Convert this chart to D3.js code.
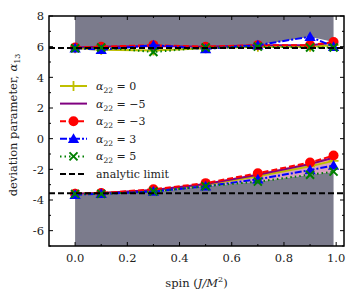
<!DOCTYPE html>
<html>
<head>
<meta charset="utf-8">
<script src="https://cdn.jsdelivr.net/npm/d3@7"></script>
<style>
  body { margin: 0; background: #fff; }
  text { font-family: "DejaVu Serif", "Liberation Serif", serif; fill: #222; }
</style>
</head>
<body>
<div id="chart"></div>
<script>
// spin values and the deviation parameter for each alpha_22
const spin = [0, 0.1, 0.3, 0.5, 0.7, 0.9, 0.99];
const alphaLabels = ["0", "\u22125", "\u22123", "3", "5"];
const upperValues = [
    [5.9, 5.8, 5.75, 5.9, 6.0, 6.0, 6.1],
    [5.95, 6.0, 6.05, 6.0, 6.1, 6.1, 6.25],
    [5.95, 6.0, 6.1, 6.0, 6.1, 6.1, 6.3],
    [5.9, 5.8, 6.1, 5.85, 6.1, 6.65, 6.0],
    [5.9, 5.95, 5.65, 5.95, 6.0, 5.95, 5.95]
];
const lowerValues = [
    [-3.6, -3.55, -3.4, -3.0, -2.45, -1.8, -1.45],
    [-3.6, -3.55, -3.35, -2.95, -2.35, -1.65, -1.25],
    [-3.6, -3.55, -3.3, -2.9, -2.25, -1.55, -1.1],
    [-3.65, -3.6, -3.45, -3.1, -2.65, -2.05, -1.75],
    [-3.6, -3.6, -3.45, -3.1, -2.8, -2.35, -2.15]
];
const analyticLimit = [5.92, -3.56];
const xTicks = [0, 0.2, 0.4, 0.6, 0.8, 1.0];
const yTicks = [-6, -4, -2, 0, 2, 4, 6, 8];

const width = 357, height = 299;
const margin = { left: 49, right: 13, top: 16, bottom: 53 };

const svg = d3.select("#chart").append("svg")
    .attr("width", width).attr("height", height);

const x = d3.scaleLinear().domain([-0.1, 1.03]).range([margin.left, width - margin.right]);
const y = d3.scaleLinear().domain([-7, 8]).range([height - margin.bottom, margin.top]);

const series = [
    { color: "#bfbf00", dash: null, marker: "plus" },
    { color: "#800080", dash: null, marker: null },
    { color: "#ff0000", dash: "6,3", marker: "circle" },
    { color: "#0000ff", dash: "7,2,2,2", marker: "triangle" },
    { color: "#008000", dash: "1.5,3", marker: "cross" }
];

svg.append("defs").append("clipPath").attr("id", "clip")
    .append("rect")
    .attr("x", x(-0.1)).attr("y", y(8))
    .attr("width", x(1.03) - x(-0.1)).attr("height", y(-7) - y(8));

const plot = svg.append("g").attr("clip-path", "url(#clip)");

// excluded regions
const upperMax = spin.map((s, i) => d3.max(upperValues, (v) => v[i]));
const lowerMin = spin.map((s, i) => d3.min(lowerValues, (v) => v[i]));
const lowerMax = spin.map((s, i) => d3.max(lowerValues, (v) => v[i]));
const lowerMid = spin.map((s, i) => lowerValues[0][i]);

const area = d3.area().x((d) => x(d[0]));
plot.append("path")
    .attr("d", area.y0(y(8)).y1((d) => y(d[1]))(spin.map((s, i) => [s, upperMax[i]])))
    .attr("fill", "#7b7b8c");
plot.append("path")
    .attr("d", area.y0(y(-7)).y1((d) => y(d[1]))(spin.map((s, i) => [s, lowerMin[i]])))
    .attr("fill", "#7b7b8c");
plot.append("path")
    .attr("d", d3.area().x((d) => x(d[0])).y0((d) => y(d[1])).y1((d) => y(d[2]))
        (spin.map((s, i) => [s, lowerMin[i], lowerMid[i]])))
    .attr("fill", "#d9a0c0");
plot.append("path")
    .attr("d", d3.area().x((d) => x(d[0])).y0((d) => y(d[1])).y1((d) => y(d[2]))
        (spin.map((s, i) => [s, lowerMid[i], lowerMax[i]])))
    .attr("fill", "#f6b0a0");

function drawMarker(g, type, color, cx, cy) {
    if (type === "circle") {
        g.append("circle").attr("cx", cx).attr("cy", cy).attr("r", 5).attr("fill", color);
    } else if (type === "triangle") {
        g.append("path").attr("d", d3.symbol(d3.symbolTriangle, 55)())
            .attr("transform", `translate(${cx},${cy + 1})`).attr("fill", color);
    } else if (type === "plus") {
        g.append("path").attr("d", `M${cx - 5},${cy}H${cx + 5}M${cx},${cy - 5}V${cy + 5}`)
            .attr("stroke", color).attr("stroke-width", 1.8);
    } else if (type === "cross") {
        g.append("path").attr("d", `M${cx - 4},${cy - 4}L${cx + 4},${cy + 4}M${cx - 4},${cy + 4}L${cx + 4},${cy - 4}`)
            .attr("stroke", color).attr("stroke-width", 2);
    }
}

const line = d3.line().x((d) => x(d[0])).y((d) => y(d[1]));
series.forEach((s, k) => {
    [upperValues[k], lowerValues[k]].forEach((vals) => {
        const pts = spin.map((sp, i) => [sp, vals[i]]);
        plot.append("path").attr("d", line(pts))
            .attr("fill", "none").attr("stroke", s.color).attr("stroke-width", 2)
            .attr("stroke-dasharray", s.dash);
        if (s.marker) pts.forEach((p) => drawMarker(plot, s.marker, s.color, x(p[0]), y(p[1])));
    });
});

analyticLimit.forEach((v) => {
    plot.append("line")
        .attr("x1", x(-0.1)).attr("x2", x(1.03))
        .attr("y1", y(v)).attr("y2", y(v))
        .attr("stroke", "#000").attr("stroke-width", 2).attr("stroke-dasharray", "6,3");
});

// axes with inward ticks on all sides
const xMinor = d3.range(0, 11).map((i) => i / 10);
const yMinor = d3.range(-7, 9);
const xb = y(-7), xt = y(8), yl = x(-0.1), yr = x(1.03);
const ticks = svg.append("g").attr("stroke", "#000").attr("stroke-width", 1);
xMinor.forEach((t) => {
    const len = xTicks.some((m) => Math.abs(m - t) < 1e-6) ? 4 : 2;
    ticks.append("line").attr("x1", x(t)).attr("x2", x(t)).attr("y1", xb).attr("y2", xb - len);
    ticks.append("line").attr("x1", x(t)).attr("x2", x(t)).attr("y1", xt).attr("y2", xt + len);
});
yMinor.forEach((t) => {
    const len = yTicks.includes(t) ? 4 : 2;
    ticks.append("line").attr("y1", y(t)).attr("y2", y(t)).attr("x1", yl).attr("x2", yl + len);
    ticks.append("line").attr("y1", y(t)).attr("y2", y(t)).attr("x1", yr).attr("x2", yr - len);
});

svg.append("rect")
    .attr("x", yl).attr("y", xt).attr("width", yr - yl).attr("height", xb - xt)
    .attr("fill", "none").attr("stroke", "#000").attr("stroke-width", 1.5);

svg.append("g").selectAll("text").data(xTicks).enter().append("text")
    .attr("x", (d) => x(d)).attr("y", xb + 16)
    .attr("text-anchor", "middle").attr("font-size", 11.5)
    .text((d) => d.toFixed(1));

svg.append("g").selectAll("text").data(yTicks).enter().append("text")
    .attr("x", yl - 5).attr("y", (d) => y(d) + 4.2)
    .attr("text-anchor", "end").attr("font-size", 11.5)
    .text((d) => d);

const xl = svg.append("text").attr("x", (yl + yr) / 2).attr("y", 287)
    .attr("text-anchor", "middle").attr("font-size", 11.5);
xl.append("tspan").text("spin (");
xl.append("tspan").attr("font-style", "italic").text("J/M");
xl.append("tspan").attr("font-size", 8).attr("dy", -5).text("2");
xl.append("tspan").attr("dy", 5).text(")");

const ylab = svg.append("text")
    .attr("transform", `translate(17,${(xt + xb) / 2 - 6}) rotate(-90)`)
    .attr("text-anchor", "middle").attr("font-size", 11.5);
ylab.append("tspan").text("deviation parameter, ");
ylab.append("tspan").attr("font-style", "italic").text("\u03b1");
ylab.append("tspan").attr("font-size", 8).attr("dy", 3).text("13");

// legend
const legend = svg.append("g").attr("transform", "translate(60,86)");
const entries = series.map((s, k) => ({ ...s, label: alphaLabels[k] }));
entries.push({ color: "#000", dash: "6,3", marker: null, label: null });
entries.forEach((e, i) => {
    const gy = i * 17.6;
    legend.append("line").attr("x1", 0).attr("x2", 27).attr("y1", gy).attr("y2", gy)
        .attr("stroke", e.color).attr("stroke-width", 2).attr("stroke-dasharray", e.dash);
    if (e.marker) drawMarker(legend, e.marker, e.color, 13.5, gy);
    const t = legend.append("text").attr("x", 36).attr("y", gy + 4).attr("font-size", 11);
    if (e.label === null) {
        t.text("analytic limit");
    } else {
        t.append("tspan").attr("font-style", "italic").text("\u03b1");
        t.append("tspan").attr("font-size", 7.5).attr("dy", 3).text("22");
        t.append("tspan").attr("dy", -3).text(" = " + e.label);
    }
});
</script>
</body>
</html>
